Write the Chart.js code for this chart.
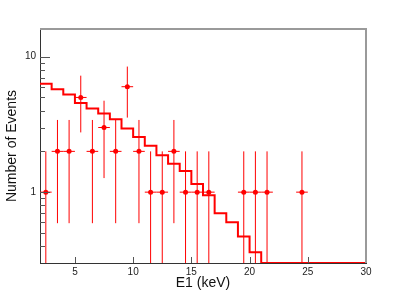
<!DOCTYPE html>
<html><head><meta charset="utf-8">
<script src="https://cdn.jsdelivr.net/npm/chart.js@4/dist/chart.umd.min.js"></script>
<style>html,body{margin:0;padding:0;background:#fff;overflow:hidden}canvas{display:block}</style>
</head><body>
<canvas id="c" width="407" height="293"></canvas>
<script>
// Measured data points (bin centres, keV) and counts with their errors
const binCenters = [2.5, 3.5, 4.5, 5.5, 6.5, 7.5, 8.5, 9.5, 10.5, 11.5, 12.5, 13.5, 14.5, 15.5, 16.5, 19.5, 20.5, 21.5, 24.5];
const counts     = [1, 2, 2, 5, 2, 3, 2, 6, 2, 1, 1, 2, 1, 1, 1, 1, 1, 1, 1];
const countErrors = [1, 1.41, 1.41, 2.24, 1.41, 1.73, 1.41, 2.45, 1.41, 1, 1, 1.41, 1, 1, 1, 1, 1, 1, 1];
const binHalfWidths = [0.5, 0.5, 0.5, 0.5, 0.5, 0.5, 0.5, 0.5, 0.5, 0.5, 0.5, 0.5, 0.5, 0.5, 0.5, 0.5, 0.5, 0.5, 0.5];

// Model histogram: bin edges and per-bin expected counts
const histEdges  = [2, 3, 4, 5, 6, 7, 8, 9, 10, 11, 12, 13, 14, 15, 16, 17, 18, 19, 20, 21, 22, 23, 24, 25, 26, 27, 28, 29, 30];
const histValues = [6.3, 5.75, 5.25, 4.55, 4.15, 3.8, 3.45, 2.95, 2.55, 2.2, 1.87, 1.62, 1.43, 1.15, 0.95, 0.70, 0.60, 0.47, 0.36, 0.28, 0.22, 0.17, 0.13, 0.10, 0.08, 0.06, 0.05, 0.04];

// Axes
const xTickValues = [5, 10, 15, 20, 25, 30];
const yTickValues = [1, 10];
const yMinorTickValues = [0.4, 0.5, 0.6, 0.7, 0.8, 0.9, 2, 3, 4, 5, 6, 7, 8, 9];
const X_MIN = 2, X_MAX = 30, Y_MIN = 0.3, Y_MAX = 16;

const RED = '#ff0000';

const histData = histEdges.map((x, i) => ({ x, y: Math.max(histValues[Math.min(i, histValues.length - 1)], Y_MIN) }));
const pointData = binCenters.map((x, i) => ({ x, y: counts[i] }));

const errorBars = {
  id: 'errorBars',
  afterDatasetsDraw(chart) {
    const { ctx, chartArea: a, scales: { x, y } } = chart;
    ctx.save();
    ctx.beginPath(); ctx.rect(a.left, a.top, a.right - a.left, a.bottom - a.top); ctx.clip();
    ctx.strokeStyle = RED; ctx.lineWidth = 1;
    binCenters.forEach((c, i) => {
      const px = x.getPixelForValue(c);
      const py = y.getPixelForValue(counts[i]);
      const lo = counts[i] - countErrors[i];
      const hi = counts[i] + countErrors[i];
      const pyLo = lo > Y_MIN ? y.getPixelForValue(lo) : a.bottom;
      const pyHi = y.getPixelForValue(hi);
      ctx.beginPath();
      ctx.moveTo(px, pyLo); ctx.lineTo(px, pyHi);
      ctx.moveTo(x.getPixelForValue(c - binHalfWidths[i]), py);
      ctx.lineTo(x.getPixelForValue(c + binHalfWidths[i]), py);
      ctx.stroke();
    });
    ctx.restore();
  }
};

const frame = {
  id: 'frame',
  afterDraw(chart) {
    const { ctx, chartArea: a, scales: { x, y } } = chart;
    ctx.save();
    // inside ticks
    ctx.strokeStyle = '#555'; ctx.lineWidth = 1;
    ctx.beginPath();
    xTickValues.forEach(v => {
      const px = Math.round(x.getPixelForValue(v)) + 0.5;
      ctx.moveTo(px, a.bottom); ctx.lineTo(px, a.bottom - 6);
    });
    yTickValues.forEach(v => {
      const py = Math.round(y.getPixelForValue(v)) + 0.5;
      ctx.moveTo(a.left, py); ctx.lineTo(a.left + 10, py);
    });
    yMinorTickValues.forEach(v => {
      const py = Math.round(y.getPixelForValue(v)) + 0.5;
      ctx.moveTo(a.left, py); ctx.lineTo(a.left + 5, py);
    });
    ctx.stroke();
    // top & right frame
    ctx.strokeStyle = '#9a9a9a'; ctx.lineWidth = 2;
    ctx.beginPath();
    ctx.moveTo(a.left, a.top); ctx.lineTo(a.right, a.top); ctx.lineTo(a.right, a.bottom);
    ctx.stroke();
    ctx.restore();
  }
};

new Chart(document.getElementById('c'), {
  data: {
    datasets: [
      {
        type: 'scatter', data: pointData, showLine: false,
        pointStyle: 'circle', pointRadius: 2.5, pointHoverRadius: 2.5,
        backgroundColor: RED, borderColor: RED, borderWidth: 0, order: 0
      },
      {
        type: 'line', data: histData, stepped: 'before',
        borderColor: RED, borderWidth: 2, pointRadius: 0, fill: false, order: 1
      }
    ]
  },
  options: {
    responsive: false, animation: false,
    layout: { padding: { top: 29, right: 41, left: 0, bottom: 0 } },
    plugins: { legend: { display: false }, tooltip: { enabled: false } },
    scales: {
      x: {
        type: 'linear', min: X_MIN, max: X_MAX,
        afterBuildTicks: s => { s.ticks = xTickValues.map(v => ({ value: v })); },
        afterFit: s => { s.height = 30; },
        grid: { display: false, drawTicks: false },
        border: { display: true, color: '#333', width: 1 },
        ticks: { padding: 3, color: '#222', font: { family: 'Liberation Sans', size: 10 }, maxRotation: 0, autoSkip: false, callback: v => String(v) },
        title: { display: true, text: 'E1 (keV)', color: '#111', font: { family: 'Liberation Sans', size: 14 }, padding: { top: 0, bottom: 1 } }
      },
      y: {
        type: 'logarithmic', min: Y_MIN, max: Y_MAX,
        afterBuildTicks: s => { s.ticks = yTickValues.map(v => ({ value: v })); },
        afterFit: s => { s.width = 40; },
        grid: { display: false, drawTicks: false },
        border: { display: true, color: '#333', width: 1 },
        ticks: { padding: 4, color: '#222', font: { family: 'Liberation Sans', size: 10 }, autoSkip: false, callback: v => String(v) },
        title: { display: true, text: 'Number of Events', color: '#111', font: { family: 'Liberation Sans', size: 14 }, padding: { top: 4, bottom: 0 } }
      }
    }
  },
  plugins: [errorBars, frame]
});
</script>
</body></html>
